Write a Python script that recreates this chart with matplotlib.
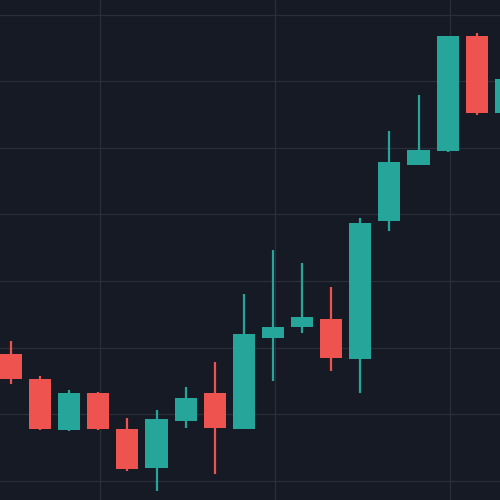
import matplotlib.pyplot as plt
import numpy as np

# OHLC values (arbitrary price units)
opens = [146, 121, 70, 107, 71, 32, 79, 107, 71, 162, 173, 181, 141, 279, 335, 349, 464, 387]
highs = [159, 124, 110, 108, 82, 90, 113, 138, 206, 250, 237, 213, 282, 369, 405, 464, 467, 421]
lows = [116, 70, 69, 70, 29, 9, 72, 26, 71, 119, 167, 129, 107, 269, 335, 348, 385, 385]
closes = [121, 71, 107, 71, 31, 81, 102, 72, 166, 173, 183, 142, 277, 338, 350, 464, 387, 421]

up_color = '#26a69a'
down_color = '#ef5350'
bg = '#161a25'

fig = plt.figure(figsize=(5, 5), dpi=100, facecolor=bg)
ax = fig.add_axes([0, 0, 1, 1], facecolor=bg)

x = np.arange(len(opens))
for i in x:
    o, h, l, c = opens[i], highs[i], lows[i], closes[i]
    col = up_color if c >= o else down_color
    ax.vlines(i, l, h, color=col, linewidth=1.6, zorder=2)
    ax.bar(i, abs(c - o), bottom=min(o, c), width=0.76, color=col, zorder=3)

ax.set_xlim(-0.378, 16.8)
ax.set_ylim(0, 500)
ax.set_xticks([3.06, 9.07, 15.09])
ax.set_yticks([19, 86, 152, 219, 286, 352, 419, 485])
ax.grid(True, color='#2a2e39', linewidth=0.9, zorder=0)
ax.tick_params(length=0, labelbottom=False, labelleft=False)
for s in ax.spines.values():
    s.set_visible(False)

fig.savefig('out.png', dpi=100, facecolor=bg)
